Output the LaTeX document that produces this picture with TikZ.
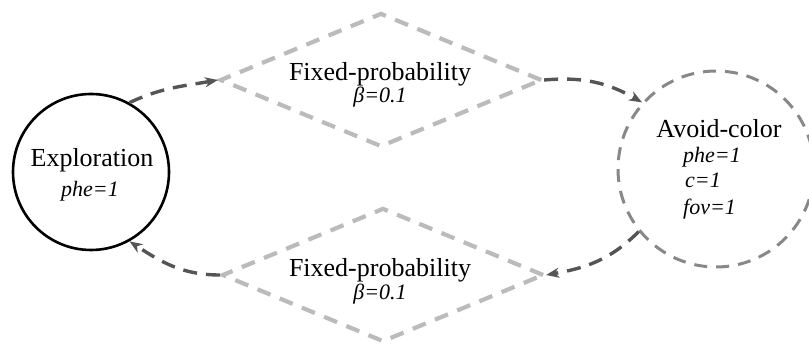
\documentclass[tikz,border=0pt]{standalone}
\usepackage{fontspec}
\setmainfont{Liberation Serif}
\usetikzlibrary{shapes.geometric,arrows.meta}
\definecolor{diamondgray}{HTML}{BBBBBB}
\definecolor{avoidgray}{HTML}{888888}
\definecolor{arrowgray}{HTML}{555555}
\begin{document}
\begin{tikzpicture}[x=1pt,y=1pt,
  bigtext/.style={font=\fontsize{26}{30}\selectfont, inner sep=0pt},
  smalltext/.style={font=\fontsize{22}{25}\selectfont\itshape, inner sep=0pt},
  expstate/.style={circle, draw=black, line width=2.6pt, minimum size=156pt, inner sep=0pt},
  avoidstate/.style={circle, draw=avoidgray, line width=3pt, dash pattern=on 13pt off 9pt, minimum size=196pt, inner sep=0pt},
  fpbox/.style={diamond, draw=diamondgray, line width=4.2pt, dash pattern=on 14pt off 10pt, minimum width=322pt, minimum height=134pt, inner sep=0pt},
  trans/.style={draw=arrowgray, line width=3.4pt, dash pattern=on 14pt off 9pt, -{Stealth[length=13pt,width=10pt,inset=4pt]}}
]
\useasboundingbox (0,0) rectangle (809,-347);

\node[expstate] (exp) at (91,-172) {};
\node[bigtext, anchor=base] (expt) at (92,-167) {Exploration};
\node[smalltext, anchor=base] (expp) at (90,-197) {phe=1};

\node[fpbox] (fp1) at (381,-80) {};
\node[bigtext, anchor=base] (fp1t) at (380,-81) {Fixed-probability};
\node[smalltext, anchor=base] (fp1b) at (380,-103) {β=0.1};

\node[fpbox] (fp2) at (383,-275) {};
\node[bigtext, anchor=base] (fp2t) at (380,-277) {Fixed-probability};
\node[smalltext, anchor=base] (fp2b) at (380,-300) {β=0.1};

\node[avoidstate] (av) at (716,-169) {};
\node[bigtext, anchor=base] (avt) at (719,-138) {Avoid-color};
\node[smalltext, anchor=base west] (av1) at (683,-163) {phe=1};
\node[smalltext, anchor=base west] (av2) at (685,-188) {c=1};
\node[smalltext, anchor=base west] (av3) at (683,-215) {fov=1};

\draw[trans] (exp.61) to[out=25,in=190] (fp1.west);
\draw[trans] (fp1.east) to[out=5,in=150] (av.138);
\draw[trans] (av.219) to[out=225,in=10] (fp2.east);
\draw[trans] (fp2.west) to[out=180,in=-33] (exp.-61);
\end{tikzpicture}
\end{document}
